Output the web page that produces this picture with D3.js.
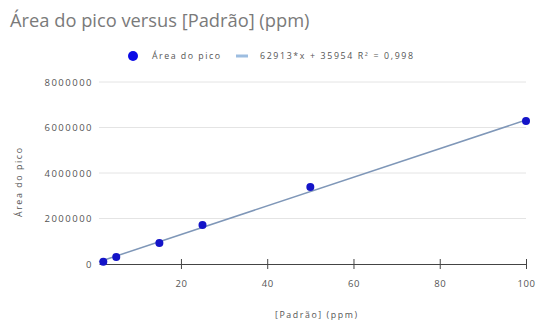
<!DOCTYPE html>
<html>
<head>
<meta charset="utf-8">
<script src="https://cdn.jsdelivr.net/npm/d3@7"></script>
<style>
  body { margin: 0; background: #fff; }
  svg { display: block; font-family: 'Open Sans', sans-serif; }
</style>
</head>
<body>
<div id="chart"></div>
<script>
// data
const concentrations = [2, 5, 15, 25, 50, 100];
const peakAreas = [100000, 310000, 920000, 1710000, 3380000, 6290000];
const xTicks = [20, 40, 60, 80, 100];
const yTicks = [0, 2000000, 4000000, 6000000, 8000000];
const trendSlope = 62913;
const trendIntercept = 35954;
const trendLabel = '62913*x + 35954 R² = 0,998';
const seriesLabel = 'Área do pico';

const width = 538;
const height = 325;
const margin = { top: 82, right: 12, bottom: 61, left: 99 };

const svg = d3.select('#chart')
  .append('svg')
  .attr('width', width)
  .attr('height', height);

const x = d3.scaleLinear()
  .domain([1, 100])
  .range([margin.left, width - margin.right]);

const y = d3.scaleLinear()
  .domain([0, 8000000])
  .range([height - margin.bottom, margin.top]);

// title
svg.append('text')
  .attr('x', 10)
  .attr('y', 27)
  .attr('font-size', 18.3)
  .attr('fill', '#7a7a7a')
  .text('Área do pico versus [Padrão] (ppm)');

// legend
const legend = svg.append('g')
  .attr('font-size', 8.8)
  .attr('fill', '#555');
legend.append('circle')
  .attr('cx', 133)
  .attr('cy', 56)
  .attr('r', 5)
  .attr('fill', '#0a0ae6');
legend.append('text')
  .attr('x', 152)
  .attr('y', 59)
  .attr('textLength', 68)
  .attr('lengthAdjust', 'spacing')
  .text(seriesLabel);
legend.append('line')
  .attr('x1', 236)
  .attr('x2', 248)
  .attr('y1', 56)
  .attr('y2', 56)
  .attr('stroke', '#9dbde0')
  .attr('stroke-width', 3);
legend.append('text')
  .attr('x', 260)
  .attr('y', 59)
  .attr('textLength', 153)
  .attr('lengthAdjust', 'spacing')
  .text(trendLabel);

// gridlines
svg.append('g')
  .selectAll('line')
  .data(yTicks.slice(1))
  .join('line')
  .attr('x1', x.range()[0])
  .attr('x2', x.range()[1])
  .attr('y1', (d) => y(d))
  .attr('y2', (d) => y(d))
  .attr('stroke', '#e4e4e4')
  .attr('stroke-width', 1);

// y tick labels
svg.append('g')
  .selectAll('text')
  .data(yTicks)
  .join('text')
  .attr('x', 93)
  .attr('y', (d) => y(d) + 3.5)
  .attr('text-anchor', 'end')
  .attr('font-size', 9.5)
  .attr('letter-spacing', 1.5)
  .attr('fill', '#555')
  .text((d) => d);

// x axis
const xAxis = d3.axisBottom(x)
  .tickValues(xTicks)
  .tickSize(0)
  .tickPadding(16)
  .tickFormat(d3.format('d'));

svg.append('g')
  .attr('transform', `translate(0,${y(0)})`)
  .call(xAxis)
  .call((g) => g.select('.domain').attr('stroke', '#444'))
  .call((g) => g.selectAll('.tick text')
    .attr('font-size', 9.5)
    .attr('letter-spacing', 0.6)
    .attr('fill', '#555')
    .attr('font-family', "'Open Sans', sans-serif"))
  .call((g) => g.selectAll('.tick')
    .append('line')
    .attr('y1', -5)
    .attr('y2', 5)
    .attr('stroke', '#444'));

// axis titles
svg.append('text')
  .attr('x', 275)
  .attr('y', 318)
  .attr('font-size', 8.8)
  .attr('fill', '#555')
  .attr('textLength', 82)
  .attr('lengthAdjust', 'spacing')
  .text('[Padrão] (ppm)');

svg.append('text')
  .attr('transform', 'translate(22,217) rotate(-90)')
  .attr('font-size', 8.8)
  .attr('fill', '#555')
  .attr('textLength', 69)
  .attr('lengthAdjust', 'spacing')
  .text('Área do pico');

// trendline
const trend = (v) => trendSlope * v + trendIntercept;
svg.append('line')
  .attr('x1', x(x.domain()[0]))
  .attr('x2', x(x.domain()[1]))
  .attr('y1', y(trend(x.domain()[0])))
  .attr('y2', y(trend(x.domain()[1])))
  .attr('stroke', '#7f97b8')
  .attr('stroke-width', 1.5);

// points
svg.append('g')
  .selectAll('circle')
  .data(concentrations.map((c, i) => ({ c, a: peakAreas[i] })))
  .join('circle')
  .attr('cx', (d) => x(d.c))
  .attr('cy', (d) => y(d.a))
  .attr('r', 4)
  .attr('fill', '#1414c8');
</script>
</body>
</html>
